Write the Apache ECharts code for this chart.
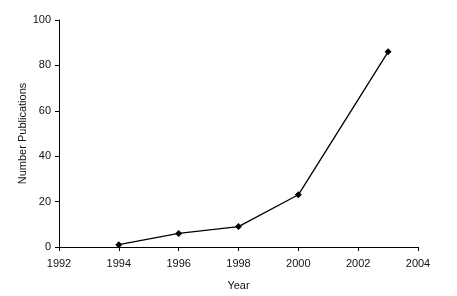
<!DOCTYPE html>
<html>
<head>
<meta charset="utf-8">
<script src="https://cdn.jsdelivr.net/npm/echarts@6/dist/echarts.min.js"></script>
<style>
  html, body { margin: 0; padding: 0; background: #fff; }
  #main { width: 457px; height: 296px; }
</style>
</head>
<body>
<div id="main"></div>
<script>
var years = [1994, 1996, 1998, 2000, 2003];
var publications = [1, 6, 9, 23, 86];

var chart = echarts.init(document.getElementById('main'));
var axisText = { color: '#111', fontFamily: 'Liberation Sans, Arial', fontSize: 11 };

var option = {
  animation: false,
  grid: { left: 59, right: 39, top: 20, bottom: 48 },
  xAxis: {
    type: 'value',
    min: 1992, max: 2004, interval: 2,
    name: 'Year', nameLocation: 'middle', nameGap: 33,
    nameMoveOverlap: false,
    nameTextStyle: axisText,
    axisLine: { show: true, lineStyle: { color: '#000', width: 1 } },
    axisTick: { show: true, length: 4, lineStyle: { color: '#000' } },
    axisLabel: Object.assign({ margin: 11, formatter: function (v) { return String(v); } }, axisText),
    splitLine: { show: false }
  },
  yAxis: {
    type: 'value',
    min: 0, max: 100, interval: 20,
    name: 'Number Publications', nameLocation: 'middle', nameGap: 31,
    nameMoveOverlap: false,
    nameTextStyle: axisText,
    axisLine: { show: true, lineStyle: { color: '#000', width: 1 } },
    axisTick: { show: true, length: 4, lineStyle: { color: '#000' } },
    axisLabel: Object.assign({ margin: 8 }, axisText),
    splitLine: { show: false }
  },
  series: [{
    type: 'line',
    data: years.map(function (y, i) { return [y, publications[i]]; }),
    symbol: 'diamond',
    symbolSize: 7,
    itemStyle: { color: '#000' },
    lineStyle: { color: '#000', width: 1.3 }
  }]
};
chart.setOption(option);
</script>
</body>
</html>
